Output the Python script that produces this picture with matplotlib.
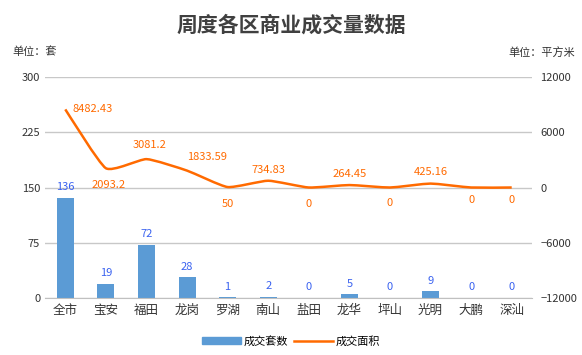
import matplotlib
matplotlib.use("Agg")
import matplotlib.pyplot as plt
from matplotlib.path import Path
from matplotlib.patches import PathPatch
import numpy as np

plt.rcParams['font.family'] = ['Noto Sans CJK SC', 'DejaVu Sans']

districts = ['全市', '宝安', '福田', '龙岗', '罗湖', '南山', '盐田', '龙华', '坪山', '光明', '大鹏', '深汕']
units = [136, 19, 72, 28, 1, 2, 0, 5, 0, 9, 0, 0]
area = [8482.43, 2093.2, 3081.2, 1833.59, 50, 734.83, 0, 264.45, 0, 425.16, 0, 0]
area_labels = ['8482.43', '2093.2', '3081.2', '1833.59', '50', '734.83', '0', '264.45', '0', '425.16', '0', '0']
# label offsets in points (dx, dy) and alignment for the line labels
lab_off = [(5, 0, 'left'), (2, -12, 'center'), (2, 10, 'center'), (0, 10, 'left'),
           (0, -12, 'center'), (0, 8, 'center'), (0, -12, 'center'), (0, 8, 'center'),
           (0, -11, 'center'), (0, 8, 'center'), (0, -9, 'center'), (0, -9, 'center')]

bar_c = '#5B9BD5'
line_c = '#FF6A00'
num_c = '#3A62F0'

fig = plt.figure(figsize=(5.82, 3.55), dpi=100)
ax = fig.add_axes([45/582, 1 - 298/355, (532-45)/582, (298-77)/355])
x = np.arange(len(districts))
ax.bar(x, units, width=0.42, color=bar_c, zorder=2)
for xi, v in zip(x, units):
    ax.annotate(str(v), (xi, v), xytext=(0, 4), textcoords='offset points',
                ha='center', va='bottom', fontsize=8, color=num_c)
ax.set_ylim(0, 300)
ax.set_yticks([0, 75, 150, 225, 300])
ax.set_xlim(-0.5, len(districts) - 0.5)
ax.set_xticks(x)
ax.set_xticklabels(districts, fontsize=9, color='#333333')
ax.grid(axis='y', color='#C8C8C8', linewidth=1, zorder=0)
for s in ['top', 'left', 'right']:
    ax.spines[s].set_visible(False)
ax.spines['bottom'].set_color('#C0C0C0')
ax.tick_params(axis='both', length=0, labelsize=8, colors='#333333')
ax.tick_params(axis='x', labelsize=9, pad=4)

ax2 = ax.twinx()
ax2.set_ylim(-12000, 12000)

# lightly smoothed line: cubic bezier through the data points
ya = np.array(area, dtype=float)
k = 12.0
verts = [(x[0], ya[0])]
codes = [Path.MOVETO]
for i in range(len(x) - 1):
    p0 = (x[max(i - 1, 0)], ya[max(i - 1, 0)])
    p1 = (x[i], ya[i])
    p2 = (x[i + 1], ya[i + 1])
    p3 = (x[min(i + 2, len(x) - 1)], ya[min(i + 2, len(x) - 1)])
    c1 = (p1[0] + (p2[0] - p0[0]) / k, p1[1] + (p2[1] - p0[1]) / k)
    c2 = (p2[0] - (p3[0] - p1[0]) / k, p2[1] - (p3[1] - p1[1]) / k)
    verts += [c1, c2, p2]
    codes += [Path.CURVE4] * 3
ax2.add_patch(PathPatch(Path(verts, codes), facecolor='none', edgecolor=line_c,
                        linewidth=1.8, zorder=3))

ax2.set_yticks([-12000, -6000, 0, 6000, 12000])
for s in ['top', 'left', 'right', 'bottom']:
    ax2.spines[s].set_visible(False)
ax2.tick_params(axis='y', length=0, labelsize=8, colors='#333333', pad=6)
for xi, v, t, (dx, dy, ha) in zip(x, area, area_labels, lab_off):
    ax2.annotate(t, (xi, v), xytext=(dx, dy), textcoords='offset points',
                 ha=ha, va='center', fontsize=8, color=line_c)

fig.text(0.5, 1 - 25/355, '周度各区商业成交量数据', ha='center', va='center',
         fontsize=15, fontweight='bold', color='#404040')
fig.text(12/582, 1 - 52/355, '单位：套', ha='left', va='center', fontsize=8, color='#333333')
fig.text(575/582, 1 - 52/355, '单位：平方米', ha='right', va='center', fontsize=8, color='#333333')

h1 = plt.Rectangle((0, 0), 1, 1, color=bar_c)
h2 = plt.Line2D([0], [0], color=line_c, linewidth=1.8)
fig.legend([h1, h2], ['成交套数', '成交面积'], loc='center', bbox_to_anchor=(0.5, 1 - 341/355),
           ncol=2, frameon=False, fontsize=8, handlelength=3.5, handleheight=0.6,
           columnspacing=0.6, handletextpad=0.2)

plt.savefig('out.png', dpi=100)
